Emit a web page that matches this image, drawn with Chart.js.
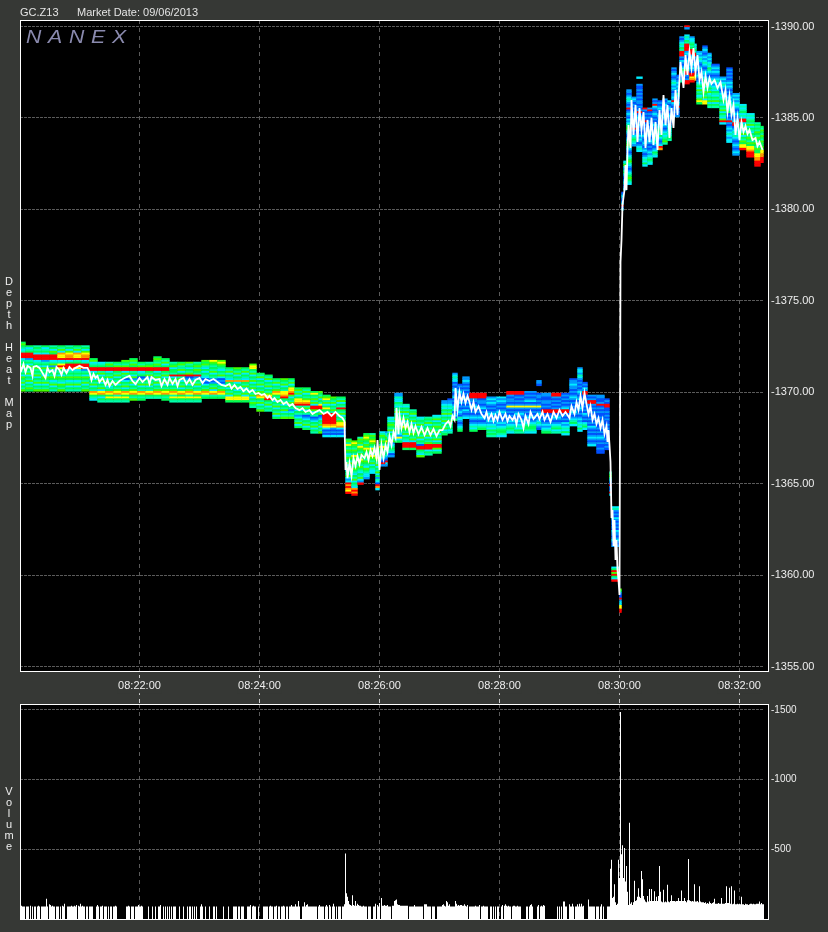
<!DOCTYPE html>
<html>
<head>
<meta charset="utf-8">
<script src="https://cdn.jsdelivr.net/npm/chart.js@4"></script>
<style>
html, body { margin: 0; padding: 0; background: #363835; }
body { width: 828px; height: 932px; position: relative; overflow: hidden; font-family: "Liberation Sans", Arial, sans-serif; }
canvas { position: absolute; left: 0; }
#priceChart { top: 0; }
#volumeChart { top: 700px; }
.hdr { position: absolute; top: 6px; font-size: 11px; color: #e4e4e4; white-space: pre; }
.side { position: absolute; left: 2px; width: 14px; color: #eee; font-size: 11px; writing-mode: vertical-rl; text-orientation: upright; letter-spacing: -1px; line-height: 14px; }
#logo { position: absolute; left: 26px; top: 26px; font: italic 19px "Liberation Sans", Arial, sans-serif; letter-spacing: 6px; color: #8a8aae; transform: scaleX(1.12); transform-origin: left top; }
</style>
</head>
<body>
<canvas id="priceChart" width="828" height="704"></canvas>
<canvas id="volumeChart" width="828" height="232"></canvas>
<div class="hdr" style="left:20px">GC.Z13</div>
<div class="hdr" style="left:77px">Market Date: 09/06/2013</div>
<div id="logo">NANEX</div>
<div class="side" style="top:275px">Depth Heat Map</div>
<div class="side" style="top:785px">Volume</div>
<script>
const BG = '#363835';

// seconds after 08:20:00
const timeTicks = [120, 240, 360, 480, 600, 720];
const timeLabels = ['08:22:00', '08:24:00', '08:26:00', '08:28:00', '08:30:00', '08:32:00'];
const priceTicks = [1355, 1360, 1365, 1370, 1375, 1380, 1385, 1390];
const volumeTicks = [500, 1000, 1500];

// depth heat map: each column starts at heatTimes[n], top row at heatTops[n], one char per 0.10 tick going down
// 0 = no depth, 1 (thin, blue) .. 9 (deep, red)
const heatEnd = 744;
const heatTimes = [
  0, 6, 14, 22, 30, 38, 46, 54, 62,
  70, 78, 86, 94, 102, 110, 118, 126, 134, 142,
  150, 158, 166, 174, 182, 190, 198, 206, 214, 222, 230,
  237, 245, 253, 261, 269, 275, 283, 291, 299, 303, 311, 317,
  326, 332, 338, 344, 350, 356, 360, 366, 368, 375, 383, 390, 397, 405, 413, 422, 428,
  433, 438, 443, 450, 458, 467, 477, 487, 495, 505, 517, 522, 532, 542, 550, 558, 563, 568, 577, 585,
  590, 592, 600,
  602, 604, 607, 612, 617, 623, 628, 633, 638, 643, 648, 652, 657, 660, 665, 670, 675, 677,
  683, 688, 692, 700, 707, 713, 720, 727, 735, 741
];
const heatTops = [
  1372.7, 1372.7, 1372.7, 1372.7, 1372.7, 1372.7, 1372.7, 1372.7, 1372.7,
  1372.7, 1372.7, 1372.7, 1372.7, 1372.7, 1372.7, 1372.7, 1372.7, 1372.7, 1372.7,
  1372.7, 1372.7, 1372.7, 1372.7, 1372.7, 1372.7, 1372.7, 1372.7, 1372.7, 1372.7, 1372.7,
  1371.0, 1371.0, 1371.0, 1371.0, 1371.0, 1371.0, 1371.0, 1371.0, 1371.0, 1371.0, 1371.0, 1371.0,
  1367.4, 1367.3, 1367.5, 1367.7, 1367.7, 1366.9, 1367.8, 1367.8, 1368.6, 1369.9, 1369.3, 1369.0, 1368.6, 1368.6, 1368.7, 1369.5, 1369.6,
  1371.0, 1370.4, 1370.8, 1369.9, 1369.9, 1369.7, 1369.7, 1370.0, 1370.0, 1370.0, 1370.6, 1369.9, 1369.9, 1369.9, 1370.7, 1371.3, 1370.5, 1369.8, 1369.8, 1369.6,
  1365.6, 1363.7, 1359.2,
  1380.9, 1382.6, 1386.5, 1386.1, 1387.2, 1385.5, 1385.5, 1386.0, 1385.9, 1386.0, 1385.9, 1387.7, 1387.3, 1389.4, 1390.0, 1389.4, 1389.0, 1388.6,
  1388.9, 1388.5, 1387.9, 1387.2, 1387.7, 1386.3, 1385.7, 1385.2, 1384.7, 1384.5
];
const heatDepths = [
  '56543 49993 45463 54536 54635 46',
  '00534 59992 45364 54635 46354 65',
  '00454 53999 34536 45463 54635 46',
  '00534 53999 24536 45436 54635 46',
  '00453 65999 34626 34546 53463 54',
  '00546 38779 34797 54536 54365 46',
  '00453 67889 35999 34546 53463 54',
  '00546 38779 45997 34546 53463 54',
  '00453 67889 34999 24536 54635 46',

  '00000 00005 63459 93546 35463 54875 43',
  '00000 00000 03459 94635 46354 63785 354',
  '00000 00000 04659 93546 35463 45875 754',
  '00000 00000 05469 95463 54635 46784 754',
  '00000 00000 65469 93645 13546 35875 754',
  '00000 00005 64659 94536 24635 46785 46',
  '00000 00000 05469 93451 25463 54875 45',
  '00000 00000 04569 95462 35463 54785 4',
  '00000 00056 54659 93546 34635 46875 4',
  '00000 00005 46359 95463 54635 46785 45',

  '00000 00000 04563 55493 54635 46874 754',
  '00000 00000 05644 63594 63546 35785 754',
  '00000 00000 06453 54691 24635 46874 754',
  '00000 00000 04564 65492 35463 54785 754',
  '00000 00000 65643 53543 12135 46874 5',
  '00000 00000 76545 46354 21254 63784 5',
  '00000 00000 67654 35463 12135 46874 5',
  '00000 00000 00005 46354 38546 35463 775',
  '00000 00000 00006 54635 48354 63546 775',
  '00000 00000 00005 46354 38546 35463 775',
  '00000 00000 00677 54635 46354 63546 35465 4',

  '54635 46354 65875 46354 6',
  '05463 54635 46789 54635 4',
  '00054 63546 87546 35463 54635',
  '00065 46354 77895 46354 63546',
  '00054 63577 89635 46354 23546',
  '00000 00056 46357 78946 35423 54635',
  '00000 00054 63546 78946 35412 35463 5',
  '00000 00000 57546 46399 63541 23546 354',
  '00000 00000 65463 54799 54612 35463 546',
  '00000 00000 00567 46357 54999 99987 3121 3',
  '00000 00000 00065 46354 64999 99987 2121 3',
  '00000 00000 00054 63549 54635 46778 3121 3',

  '56475 46534 65463 54354 63239 89879',
  '67654 65476 54654 65435 46354 38989',
  '46564 76546 54765 46543 54632 9',
  '56765 46576 54654 65436 54332',
  '46567 65476 54765 46354 33',
  '54654 76546 35463 52431 98 3',
  '34654 65476 54653 21 9 2',
  '23465 76546 35432 1 9 32',
  '34356 54635 43562 34543 12',
  '22433 54354 63546 35463 54327 3 5',
  '43546 35463 54765 46354 39995',
  '45635 46354 65465 46399 95',
  '34546 35465 46354 19954 36',
  '45463 54654 63546 99935 4',
  '34635 46546 35463 59963 5',
  '22343 54635 46354 6345',
  '12234 35463 54635 4534',

  '23433 12123 21231 21234 31231 5',
  '12123 21212 31212 32143 21234 5',
  '22321 21212 12312 12132 123',
  '99922 12321 21232 12343 5',
  '99912 21231 21232 12345',
  '23232 12123 21232 34354 54',
  '32321 21232 12123 23455 43',
  '99212 21272 12121 23234 543',
  '99121 21272 12321 23234 354',
  '21212 31272 12123 12345 543',
  '22100 00122 12127 21232 12343 21',
  '22112 21219 91212 12323 45',
  '99212 12129 91232 12345 34',
  '12121 21239 91212 13234 353',
  '12232 21212 32121 21232 12345 3',
  '23324 32121 21232 12312 12321 21232 34353',
  '12132 99112 12121 21321 21345 3',
  '21299 21212 12121 21321 21232 123',
  '22112 91212 11212 21121 21232 12112 11',
  '12199 11212 12112 12121 11212 121',

  '45643 21921 293',
  '34212 13212 12132 21232 12000 00000 00035 96953 9',
  '65211 92337 799',

  '12321 23913',
  '34632 45321 23412 3',
  '22123 43212 91232 13234 56432 12345 64321 23456 43212 34565 4 3',
  '23212 12123 21232 12921 23454 32',
  '30002 11212 12122 12129 12321 23212 12323 21234 3',
  '92121 21912 12112 32123 21232 12343 53',
  '29121 21221 21323 21232 12123 23454 3',
  '21293 21232 12123 21232 34343 21235 43',
  '12123 21232 12123 45435 32123 98',
  '21232 12232 32123 21234 34564',
  '32123 21232 12123 43434 54',
  '21232 12343 23212 23293 21212 12',
  '12123 23232 43212 32921 212',
  '21234 35499 92132 12354 32124',
  '92000 34354 99992 32123 21236 99212 99',
  '23345 45999 23212 32321 99789',
  '34354 99212 32123 99778',
  '23234 32123 21232 12345 36453 4675',
  '12321 23234 32123 32345 46354 65463 77',
  '23232 34354 32123 23345 46345 46354',
  '12323 21234 32343 54354 6354',
  '23234 32123 43454 35463 54369 3',
  '12121 21232 32121 23234 34345 12129 21232 34323 3',
  '23232 34321 23212 39912 34343 21232 1232',
  '34345 34399 34543 46354 65779',
  '34345 46354 35465 46577 89 99',
  '45454 65465 46546 55778 8999',
  '54654 65465 56577 88999'
];

// last trade, white line
const tradeTimes = [
  0,2,4,6,8,11,13,14,17,20,26,28,30,33,35,37,40,42,44,47,
  50,53,56,60,64,68,70,72,74,76,78,80,83,86,88,90,93,96,100,105,
  110,113,116,120,123,128,130,132,136,140,142,145,148,150,153,156,158,160,164,167,
  170,173,176,180,183,186,190,194,198,202,206,210,212,215,218,221,224,227,230,233,
  236,239,242,245,248,250,253,255,258,261,264,267,270,273,276,280,283,286,290,293,
  296,300,304,308,312,316,320,323,325,326,327,328,330,332,334,336,338,340,342,345,
  347,349,351,353,355,357,358,360,362,364,366,368,370,372,374,376,377,379,380,382,
  384,386,388,390,392,394,396,399,402,405,408,411,414,417,420,423,426,429,431,433,
  435,436,438,440,442,444,446,448,450,452,454,456,459,462,465,467,469,472,474,476,
  478,480,483,486,488,490,493,495,497,499,502,504,506,509,511,514,518,520,523,525,
  528,531,534,537,540,543,546,550,552,555,557,559,561,563,565,567,569,571,573,575,
  577,579,581,583,585,587,588,589,590,591,592,593,594,595,596,597,598,599,600,601,
  602,603,605,606,607,608,609,611,612,614,616,618,620,622,624,626,628,630,632,634,
  636,638,640,642,644,646,648,650,652,654,656,658,660,661,664,666,668,670,672,674,
  676,678,680,682,684,686,688,690,692,695,698,701,704,706,708,710,712,714,716,718,
  720,722,724,726,728,730,733,736,738,740,743
];
const tradePrices = [
  1371.49,1371.21,1371.54,1371.1,1371.44,1371.33,1370.89,1371.38,1371.44,1371.33,1370.78,1371.33,1371.1,1371.21,1370.89,1371.38,1371.21,1370.95,1371.33,1371.05,
  1371.38,1371.21,1371.33,1371.44,1371.33,1371.33,1371.1,1370.67,1371.0,1370.78,1370.89,1370.56,1370.78,1370.4,1370.67,1370.34,1370.61,1370.4,1370.61,1370.78,
  1370.89,1370.61,1370.45,1370.78,1370.56,1370.83,1370.45,1370.83,1370.67,1370.72,1370.34,1370.72,1370.4,1370.78,1370.45,1370.72,1370.34,1370.67,1370.78,1370.45,
  1370.72,1370.4,1370.67,1370.78,1370.5,1370.72,1370.61,1370.72,1370.56,1370.4,1370.34,1370.45,1370.2,1370.4,1370.17,1370.28,1370.06,1370.2,1370.0,1370.12,
  1369.9,1369.96,1369.85,1369.9,1369.68,1369.8,1369.57,1369.68,1369.46,1369.57,1369.35,1369.46,1369.24,1369.35,1369.13,1369.02,1369.13,1368.92,1369.02,1368.81,
  1368.92,1369.02,1368.81,1368.92,1368.7,1368.92,1368.7,1368.59,1368.4,1365.75,1366.18,1365.3,1366.13,1365.42,1366.4,1365.97,1366.51,1366.07,1366.57,1366.4,
  1366.73,1366.3,1366.84,1366.51,1366.95,1366.4,1367.39,1365.75,1367.11,1366.4,1367.11,1366.73,1367.6,1367.11,1367.82,1367.5,1369.14,1367.7,1368.76,1368.04,
  1368.59,1368.04,1368.37,1367.82,1368.26,1367.77,1368.15,1367.7,1368.1,1367.66,1368.04,1367.66,1367.99,1367.6,1367.93,1367.93,1368.26,1368.42,1368.15,1368.7,
  1368.48,1370.23,1369.03,1370.01,1369.46,1369.9,1369.41,1369.79,1369.46,1369.03,1369.46,1368.92,1369.24,1368.81,1368.59,1368.92,1368.48,1368.81,1368.42,1368.75,
  1368.48,1368.92,1368.48,1368.81,1368.42,1368.7,1368.48,1368.7,1368.26,1368.81,1368.48,1368.04,1368.7,1368.26,1368.92,1368.53,1368.81,1368.53,1368.92,1368.48,
  1368.81,1368.37,1368.92,1368.59,1369.03,1368.7,1368.92,1368.59,1369.24,1368.81,1369.46,1369.03,1369.79,1369.14,1369.96,1369.35,1368.81,1369.24,1368.48,1368.81,
  1368.26,1368.59,1368.04,1368.48,1367.71,1368.15,1367.28,1367.93,1367.11,1366.18,1363.12,1363.56,1361.59,1363.01,1360.83,1361.92,1360.28,1359.73,1358.91,1377.12,
  1378.32,1380.24,1381.06,1382.43,1381.06,1383.25,1384.61,1383.36,1385.98,1384.07,1385.71,1383.68,1385.54,1384.34,1385.32,1383.36,1384.89,1383.68,1385.0,1383.52,
  1384.78,1383.25,1385.43,1384.07,1386.25,1384.61,1385.71,1383.9,1385.54,1384.45,1386.53,1385.16,1387.07,1388.06,1386.64,1388.44,1387.35,1388.6,1387.73,1388.82,
  1387.51,1388.44,1387.07,1387.51,1386.42,1387.29,1386.64,1387.18,1386.86,1387.07,1386.64,1386.96,1385.98,1386.53,1385.32,1386.2,1385.16,1385.71,1384.07,1385.0,
  1383.79,1384.78,1384.23,1384.56,1384.12,1384.34,1383.79,1383.9,1383.46,1383.68,1383.25
];

// volume, one value per second
const volumes = [
  100,95,90,90,90,0,90,90,90,0,95,0,90,0,90,90,0,90,95,90,
  0,90,90,90,90,90,145,90,0,105,100,90,95,90,90,0,90,90,90,0,
  90,0,95,90,110,0,0,90,90,90,90,95,90,90,95,90,100,0,95,90,
  110,90,95,90,90,0,90,90,0,90,90,90,90,0,0,0,90,100,90,0,
  90,90,95,0,90,90,90,0,90,0,90,90,0,90,90,95,90,0,0,0,
  0,0,0,0,0,0,90,90,95,90,0,90,90,90,0,90,90,90,100,90,
  90,95,90,0,0,0,0,0,90,0,0,0,90,0,0,90,0,0,90,90,
  100,0,0,90,0,90,0,90,0,90,0,90,0,90,90,90,0,0,0,90,
  0,0,0,90,0,0,0,90,0,90,90,0,90,0,90,0,90,0,0,0,
  90,105,90,0,0,90,0,0,0,90,0,0,0,90,90,0,90,0,0,0,
  0,0,0,90,0,0,0,0,90,0,0,0,0,90,90,90,90,0,90,90,
  0,90,90,90,0,0,0,90,90,90,100,0,90,95,90,90,0,0,90,0,
  0,0,0,90,90,90,90,90,0,90,95,90,90,0,90,90,95,0,90,90,
  0,90,90,95,90,0,90,90,0,90,90,100,90,90,90,105,90,90,130,90,
  0,0,90,90,120,90,100,105,90,90,90,90,90,90,90,90,90,0,90,100,
  90,90,90,90,0,90,100,90,0,100,90,0,90,110,90,0,90,0,90,90,
  90,0,90,90,105,470,185,160,130,105,100,95,170,100,95,130,95,110,100,95,
  95,90,90,95,90,90,90,0,90,90,90,0,0,90,90,110,0,100,90,115,
  0,150,95,95,100,95,95,100,90,90,90,0,95,95,130,135,140,105,100,100,
  95,95,95,95,95,95,95,95,0,90,90,90,90,90,100,90,90,90,90,90,
  90,90,90,0,105,105,105,90,90,90,90,0,90,90,90,0,0,90,90,90,
  90,90,100,105,95,90,130,120,95,105,90,90,90,90,90,130,110,95,100,95,
  100,100,95,95,105,95,90,100,0,90,90,90,90,90,90,95,90,90,90,100,
  0,90,90,95,90,90,90,90,0,0,90,90,0,90,0,90,0,90,90,0,
  0,90,100,0,95,105,95,90,95,90,90,0,90,95,95,90,90,95,90,90,
  90,0,0,0,0,0,90,90,0,90,100,105,90,0,0,0,0,90,100,0,
  90,95,90,100,95,0,0,0,0,0,0,0,0,0,0,0,0,90,0,90,
  0,90,0,125,125,90,90,0,0,105,90,90,110,90,0,90,90,105,90,110,
  90,110,90,95,0,0,0,0,140,90,90,90,90,90,90,0,90,90,90,0,
  90,105,0,90,0,0,0,90,90,90,360,425,150,160,250,120,100,110,425,295,
  1485,465,530,295,510,270,380,195,100,690,110,120,100,120,275,130,135,160,220,160,
  150,345,285,165,140,125,120,165,125,215,130,215,130,130,200,130,160,130,165,380,
  195,125,120,210,120,125,120,245,125,120,130,170,130,130,130,125,130,130,150,130,
  130,205,130,130,150,130,120,135,430,135,130,125,130,125,250,125,125,130,120,235,
  125,120,120,120,115,120,110,115,110,125,115,110,115,120,145,110,110,110,115,110,
  110,150,110,110,110,115,235,115,115,225,110,235,105,110,205,105,105,110,105,110,
  105,160,105,105,100,110,105,105,100,105,110,110,105,110,105,105,110,110,110,125,
  105,115,105,105
];

const depthColors = ['', '#0050ff', '#0099ff', '#00eeff', '#00ffaa', '#00ff55', '#44ff00', '#ffff00', '#ff9900', '#ff0000'];
const GRID = '#5a5a5a';

function buildHeatCells() {
    const cells = [];
    const colors = [];
    heatTimes.forEach((start, n) => {
        const end = n + 1 < heatTimes.length ? heatTimes[n + 1] : heatEnd;
        const rows = heatDepths[n].replace(/ /g, '');
        for (let r = 0; r < rows.length; r++) {
            const depth = Number(rows[r]);
            if (!depth) continue;
            cells.push({ x: [start, end], y: heatTops[n] - r * 0.1 });
            colors.push(depthColors[depth]);
        }
    });
    return { cells, colors };
}

// black plot with white frame, frame runs past the end of the grid lines
function framePlugin(left, top, width, height) {
    return {
        id: 'frame',
        beforeDraw(chart) {
            const c = chart.ctx;
            c.save();
            c.fillStyle = '#000';
            c.fillRect(left, top, width, height);
            c.restore();
        },
        afterDraw(chart) {
            const c = chart.ctx;
            c.save();
            c.strokeStyle = '#fff';
            c.lineWidth = 1;
            c.strokeRect(left + 0.5, top + 0.5, width, height);
            c.restore();
        }
    };
}

function setTicks(list) {
    return function(scale) {
        scale.ticks = list.map(v => ({ value: v }));
    };
}

// right axis of fixed width, no extra room for its first and last labels
function fitRightAxis(scale) {
    scale.width = 64;
    scale.paddingTop = 0;
    scale.paddingBottom = 0;
}

const heat = buildHeatCells();

new Chart(document.getElementById('priceChart').getContext('2d'), {
    type: 'bar',
    data: {
        datasets: [
            {
                type: 'line',
                data: tradeTimes.map((t, i) => ({ x: t, y: tradePrices[i] })),
                borderColor: '#fff',
                borderWidth: 1.8,
                pointRadius: 0,
                tension: 0
            },
            {
                type: 'bar',
                indexAxis: 'y',
                data: heat.cells,
                backgroundColor: heat.colors,
                barThickness: 2,
                inflateAmount: 0.2
            }
        ]
    },
    options: {
        responsive: false,
        animation: false,
        layout: { padding: { left: 20, top: 20, right: 0, bottom: 0 } },
        plugins: { legend: { display: false }, tooltip: { enabled: false } },
        scales: {
            x: {
                type: 'linear',
                offset: false,
                min: 0.5,
                max: 744.5,
                afterBuildTicks: setTicks(timeTicks),
                afterFit(scale) { scale.height = 33; },
                border: { display: false, dash: [4, 4] },
                grid: { offset: false, color: GRID, tickColor: '#cccccc', tickLength: 33, tickBorderDash: [4, 4], tickBorderDashOffset: 4 },
                ticks: {
                    color: '#eee',
                    font: { family: '"Liberation Sans"', size: 11 },
                    padding: -25,
                    maxRotation: 0,
                    autoSkip: false,
                    showLabelBackdrop: true,
                    backdropColor: BG,
                    backdropPadding: 1,
                    callback: (v, i) => timeLabels[i]
                }
            },
            y: {
                type: 'linear',
                offset: false,
                position: 'right',
                min: 1354.754,
                max: 1390.355,
                afterBuildTicks: setTicks(priceTicks),
                afterFit: fitRightAxis,
                border: { display: false, dash: [3, 1] },
                grid: { offset: false, color: GRID, drawTicks: false, tickLength: 0 },
                ticks: {
                    color: '#eee',
                    font: { family: '"Liberation Sans"', size: 11 },
                    padding: 7,
                    autoSkip: false,
                    callback: v => '-' + v.toFixed(2)
                }
            }
        }
    },
    plugins: [framePlugin(20, 20, 748, 651)]
});

new Chart(document.getElementById('volumeChart').getContext('2d'), {
    type: 'bar',
    data: {
        datasets: [{
            data: volumes.map((v, i) => ({ x: i + 1, y: v })),
            backgroundColor: '#fff',
            barThickness: 1,
            inflateAmount: 0
        }]
    },
    options: {
        responsive: false,
        animation: false,
        layout: { padding: { left: 20, top: 4, right: 0, bottom: 13 } },
        plugins: { legend: { display: false }, tooltip: { enabled: false } },
        scales: {
            x: {
                type: 'linear',
                offset: false,
                min: 0.5,
                max: 744.5,
                afterBuildTicks: setTicks(timeTicks),
                afterFit(scale) { scale.height = 0; },
                border: { display: false, dash: [4, 4] },
                grid: { offset: false, color: GRID, drawTicks: false, tickLength: 0 },
                ticks: { display: false, autoSkip: false }
            },
            y: {
                type: 'linear',
                offset: false,
                position: 'right',
                min: 0,
                max: 1543,
                afterBuildTicks: setTicks(volumeTicks),
                afterFit: fitRightAxis,
                border: { display: false, dash: [3, 1] },
                grid: { offset: false, color: GRID, drawTicks: false, tickLength: 0 },
                ticks: {
                    color: '#eee',
                    font: { family: '"Liberation Sans"', size: 10 },
                    padding: 7,
                    autoSkip: false,
                    callback: v => '-' + v
                }
            }
        }
    },
    plugins: [framePlugin(20, 4, 748, 215)]
});
</script>
</body>
</html>
